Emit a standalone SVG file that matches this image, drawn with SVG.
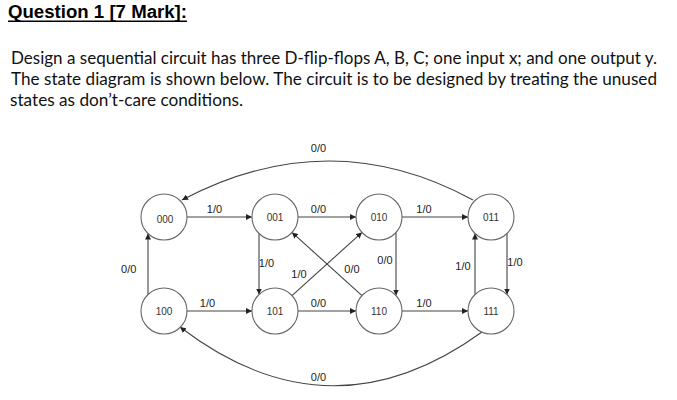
<svg xmlns="http://www.w3.org/2000/svg" width="677" height="400" viewBox="0 0 677 400">
<style>
.title{font-family:"Liberation Sans",Arial,sans-serif;font-weight:bold;font-size:18px;fill:#000}
.body{font-family:Lato,"Open Sans","Liberation Sans",sans-serif;font-size:17px;fill:#111}
.node circle{fill:#fff;stroke:#666;stroke-width:1.1}
.node text{font-family:"Liberation Sans",Arial,sans-serif;font-size:10px;fill:#333;text-anchor:middle}
.edge{fill:none;stroke:#444;stroke-width:1.1;marker-end:url(#arr)}
.lbl{font-family:"Liberation Sans",Arial,sans-serif;font-size:11px;fill:#222;text-anchor:middle}
</style>
<defs>
<marker id="arr" viewBox="0 0 10 10" refX="10" refY="5" markerWidth="6" markerHeight="6" markerUnits="userSpaceOnUse" orient="auto">
<path d="M0,0 L10,5 L0,10 z" fill="#222"/>
</marker>
</defs>
<rect width="677" height="400" fill="#fff"/>
<text class="title" x="8" y="18" textLength="179" lengthAdjust="spacingAndGlyphs">Question 1 [7 Mark]:</text>
<line x1="8" y1="21.2" x2="187" y2="21.2" stroke="#000" stroke-width="1.5"/>
<text class="body" x="11" y="64" textLength="646" lengthAdjust="spacingAndGlyphs">Design a sequential circuit has three D-flip-flops A, B, C; one input x; and one output y.</text>
<text class="body" x="11" y="85" textLength="646" lengthAdjust="spacingAndGlyphs">The state diagram is shown below. The circuit is to be designed by treating the unused</text>
<text class="body" x="10" y="106" textLength="233" lengthAdjust="spacingAndGlyphs">states as don’t-care conditions.</text>

<g id="connectors">
<path class="edge" d="M187,217 L252,217"/>
<path class="edge" d="M298,217 L356,217"/>
<path class="edge" d="M402,217 L468,217"/>
<path class="edge" d="M187,311 L252,311"/>
<path class="edge" d="M298,311 L356,311"/>
<path class="edge" d="M402,311 L468,311"/>
<path class="edge" d="M148,294.5 L148,233.5"/>
<path class="edge" d="M259,233.5 L259,294.5"/>
<path class="edge" d="M396,232.5 L396,295.5"/>
<path class="edge" d="M507,233.5 L507,294.5"/>
<path class="edge" d="M475,294.5 L475,233.5"/>
<path class="edge" d="M292,295.6 L362,232.4"/>
<path class="edge" d="M362,295.6 L292,232.4"/>
<path class="edge" d="M473,200 Q330,122 182,200"/>
<path class="edge" d="M482,332 Q330,442 180,327"/>
<text class="lbl" x="318.5" y="151.5">0/0</text>
<text class="lbl" x="214.5" y="213">1/0</text>
<text class="lbl" x="318.5" y="213">0/0</text>
<text class="lbl" x="424" y="213">1/0</text>
<text class="lbl" x="128.7" y="273">0/0</text>
<text class="lbl" x="266.5" y="266.5">1/0</text>
<text class="lbl" x="385" y="264">0/0</text>
<text class="lbl" x="299" y="278">1/0</text>
<text class="lbl" x="352" y="273">0/0</text>
<text class="lbl" x="463" y="270">1/0</text>
<text class="lbl" x="515" y="266">1/0</text>
<text class="lbl" x="207.5" y="306.5">1/0</text>
<text class="lbl" x="318.5" y="306.5">0/0</text>
<text class="lbl" x="424" y="306.5">1/0</text>
<text class="lbl" x="318.5" y="380.5">0/0</text>
</g>

<g id="s000" class="node"><circle cx="164" cy="217" r="23"/><text x="165" y="223">000</text></g>
<g id="s001" class="node"><circle cx="275" cy="217" r="23"/><text x="275" y="220.5">001</text></g>
<g id="s010" class="node"><circle cx="379" cy="217" r="23"/><text x="379" y="220.5">010</text></g>
<g id="s011" class="node"><circle cx="491" cy="217" r="23"/><text x="491" y="220.5">011</text></g>
<g id="s100" class="node"><circle cx="164" cy="311" r="23"/><text x="164" y="314.7">100</text></g>
<g id="s101" class="node"><circle cx="275" cy="311" r="23"/><text x="275" y="314.7">101</text></g>
<g id="s110" class="node"><circle cx="379" cy="311" r="23"/><text x="379" y="314.7">110</text></g>
<g id="s111" class="node"><circle cx="491" cy="311" r="23"/><text x="491" y="314.7">111</text></g>
</svg>
